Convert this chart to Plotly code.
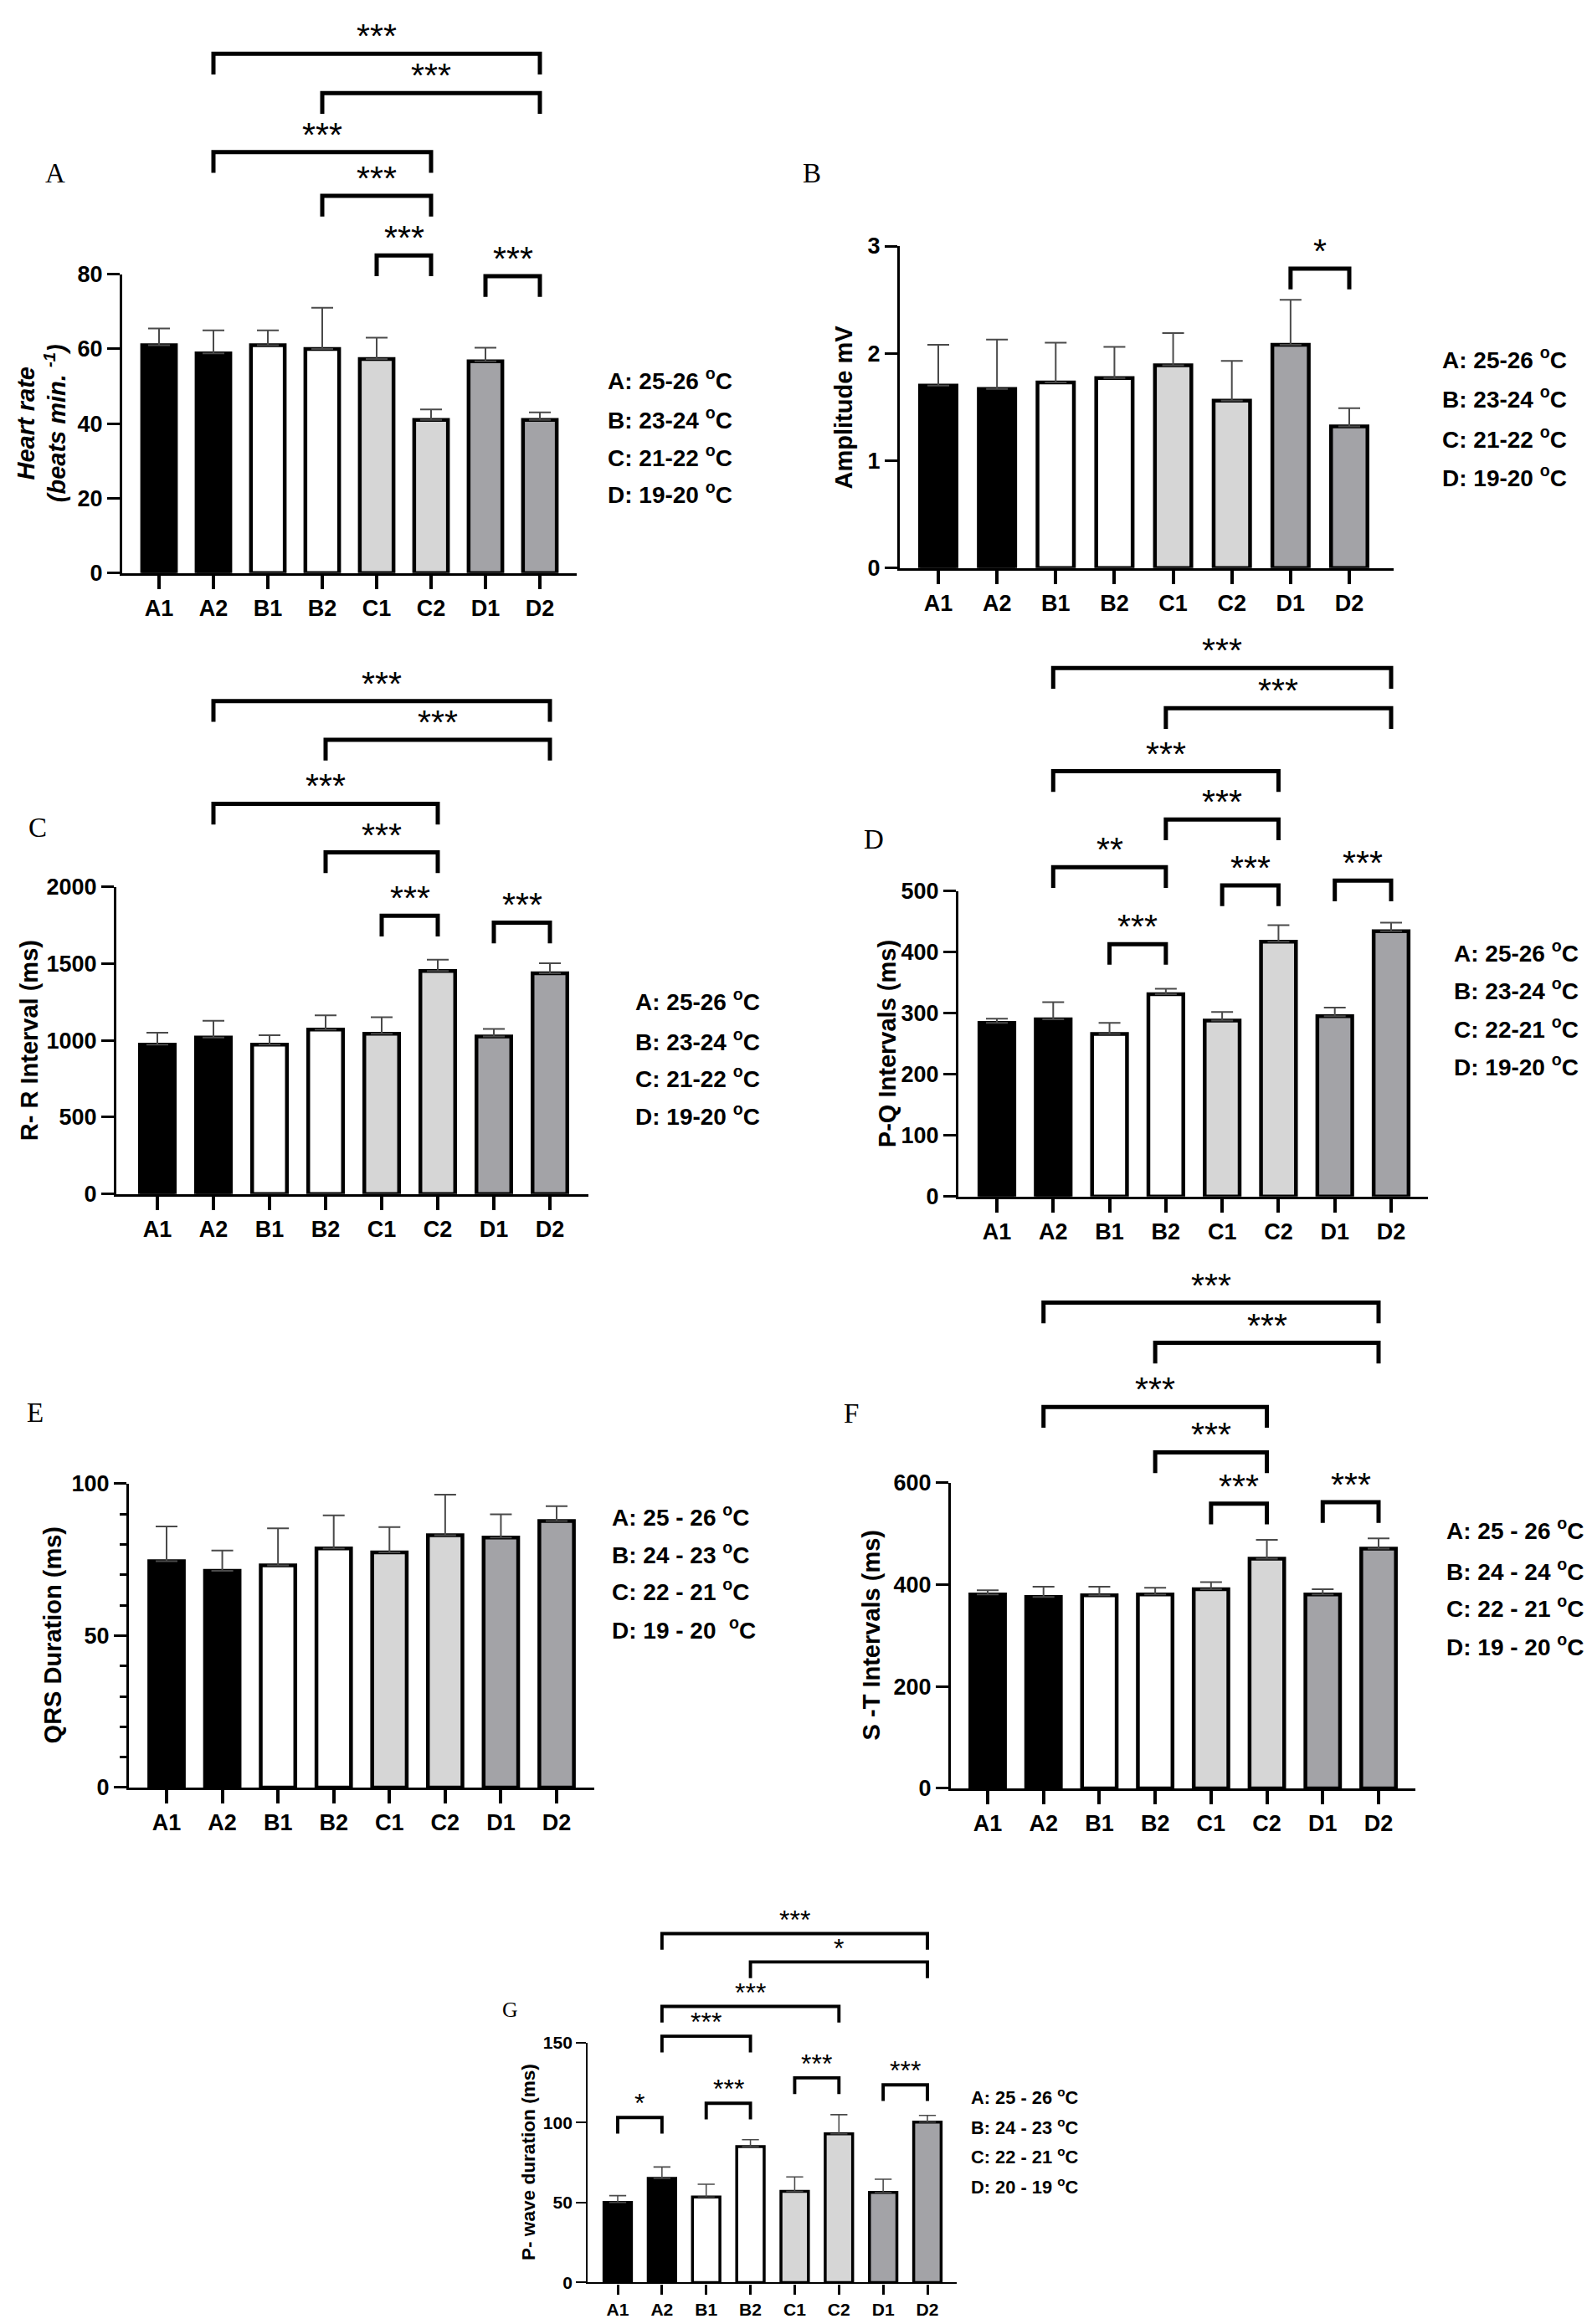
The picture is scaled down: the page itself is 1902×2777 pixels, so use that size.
import plotly.graph_objects as go

W, H = 1902, 2777

categories = ["A1", "A2", "B1", "B2", "C1", "C2", "D1", "D2"]
bar_colors = ["#000000", "#000000", "#ffffff", "#ffffff", "#d6d6d6", "#d6d6d6", "#a3a3a7", "#a3a3a7"]

# Panel A - heart rate
hr_mean = [61.0, 58.8, 61.0, 60.0, 57.3, 41.0, 56.7, 41.0]
hr_err = [4.5, 6.2, 4.0, 11.0, 5.7, 2.8, 3.6, 2.0]
hr_sig = [(1, 7, 139, "***"), (3, 7, 128.5, "***"), (1, 5, 112.7, "***"),
          (3, 5, 101, "***"), (4, 5, 85, "***"), (6, 7, 79.5, "***")]

# Panel B - amplitude
amp_mean = [1.70, 1.67, 1.73, 1.77, 1.89, 1.56, 2.08, 1.32]
amp_err = [0.38, 0.46, 0.37, 0.29, 0.30, 0.37, 0.42, 0.17]
amp_sig = [(6, 7, 2.79, "*")]

# Panel C - R-R interval
rr_mean = [973, 1019, 973, 1070, 1043, 1452, 1026, 1437]
rr_err = [77, 108, 61, 93, 108, 74, 49, 65]
rr_sig = [(1, 7, 3209, "***"), (3, 7, 2957, "***"), (1, 5, 2541, "***"),
          (3, 5, 2224, "***"), (4, 5, 1812, "***"), (6, 7, 1767, "***")]

# Panel D - P-Q intervals
pq_mean = [284, 290, 266, 331, 288, 417, 295, 434]
pq_err = [7, 28, 18, 9, 14, 27, 14, 14]
pq_sig = [(1, 7, 865, "***"), (3, 7, 799, "***"), (1, 5, 696, "***"),
          (3, 5, 617, "***"), (1, 3, 539, "**"), (2, 3, 413, "***"),
          (4, 5, 509, "***"), (6, 7, 517, "***")]

# Panel E - QRS duration
qrs_mean = [74.5, 71.3, 73.1, 78.7, 77.4, 83.0, 82.3, 87.7]
qrs_err = [11.4, 6.7, 12.2, 10.9, 8.3, 13.4, 7.6, 4.9]
qrs_sig = []

# Panel F - S-T intervals
st_mean = [381, 376, 379, 381, 391, 451, 381, 471]
st_err = [8, 20, 17, 13, 14, 37, 10, 20]
st_sig = [(1, 7, 954, "***"), (3, 7, 875, "***"), (1, 5, 749, "***"),
          (3, 5, 660, "***"), (4, 5, 559, "***"), (6, 7, 562, "***")]

# Panel G - P-wave duration
pw_mean = [50.1, 65.1, 53.4, 84.9, 57.0, 92.9, 56.3, 100.3]
pw_err = [4.2, 7.1, 8.0, 4.4, 9.0, 12.0, 8.3, 4.1]
pw_sig = [(1, 7, 218, "***"), (3, 7, 200.3, "*"), (1, 5, 172.5, "***"),
          (1, 3, 153.9, "***"), (0, 1, 103.1, "*"), (2, 3, 112, "***"),
          (4, 5, 127.9, "***"), (6, 7, 123.5, "***")]

legend_groups = ["A", "B", "C", "D"]
leg_A = ["25-26", "23-24", "21-22", "19-20"]
leg_B = ["25-26", "23-24", "21-22", "19-20"]
leg_C = ["25-26", "23-24", "21-22", "19-20"]
leg_D = ["25-26", "23-24", "22-21", "19-20"]
leg_E = ["25 - 26", "24 - 23", "22 - 21", "19 - 20 "]
leg_F = ["25 - 26", "24 - 24", "22 - 21", "19 - 20"]
leg_G = ["25 - 26", "24 - 23", "22 - 21", "20 - 19"]

panels = [
    dict(letter="A", mean=hr_mean, err=hr_err, sig=hr_sig, ymax=80, dtick=20, minor=None,
         title="Heart rate<br>(beats min. <sup>-1</sup>)", italic=True, legend=leg_A,
         geo=dict(xl=138, xr=681, yb=669, yt=308, top=0, c0=182, c7=637,
                  letter=(58, 186), title_x=42, leg_x=716, leg_y=[435, 482, 528, 572], s=1.0)),
    dict(letter="B", mean=amp_mean, err=amp_err, sig=amp_sig, ymax=3, dtick=1, minor=None,
         title="Amplitude mV", italic=False, legend=leg_B,
         geo=dict(xl=1067, xr=1657, yb=663, yt=274, top=150, c0=1113, c7=1604,
                  letter=(962, 186), title_x=1000, leg_x=1713, leg_y=[409, 457, 505, 552], s=1.0)),
    dict(letter="C", mean=rr_mean, err=rr_err, sig=rr_sig, ymax=2000, dtick=500, minor=None,
         title="R- R Interval (ms)", italic=False, legend=leg_C,
         geo=dict(xl=131, xr=695, yb=1419, yt=1048, top=740, c0=180, c7=649,
                  letter=(37, 977), title_x=27, leg_x=749, leg_y=[1185, 1233, 1278, 1323], s=1.0)),
    dict(letter="D", mean=pq_mean, err=pq_err, sig=pq_sig, ymax=500, dtick=100, minor=None,
         title="P-Q Intervals (ms)", italic=False, legend=leg_D,
         geo=dict(xl=1137, xr=1698, yb=1422, yt=1053, top=720, c0=1183, c7=1654,
                  letter=(1036, 991), title_x=1052, leg_x=1727, leg_y=[1126, 1172, 1218, 1264], s=1.0)),
    dict(letter="E", mean=qrs_mean, err=qrs_err, sig=qrs_sig, ymax=100, dtick=50, minor=10,
         title="QRS Duration (ms)", italic=False, legend=leg_E,
         geo=dict(xl=146, xr=702, yb=2136, yt=1769, top=1500, c0=191, c7=657,
                  letter=(34, 1683), title_x=55, leg_x=721, leg_y=[1808, 1853, 1898, 1944], s=1.0)),
    dict(letter="F", mean=st_mean, err=st_err, sig=st_sig, ymax=600, dtick=200, minor=None,
         title="S -T Intervals (ms)", italic=False, legend=leg_F,
         geo=dict(xl=1128, xr=1683, yb=2137, yt=1768, top=1480, c0=1172, c7=1639,
                  letter=(1009, 1684), title_x=1033, leg_x=1718, leg_y=[1824, 1873, 1918, 1964], s=1.0)),
    dict(letter="G", mean=pw_mean, err=pw_err, sig=pw_sig, ymax=150, dtick=50, minor=None,
         title="P- wave duration (ms)", italic=False, legend=leg_G,
         geo=dict(xl=694, xr=1135, yb=2734, yt=2444, top=2240, c0=730, c7=1100,
                  letter=(601, 2404), title_x=623, leg_x=1150, leg_y=[2509, 2545, 2581, 2617], s=0.78)),
]

SANS = "Liberation Sans, Arial, sans-serif"
SERIF = "Liberation Serif, Times New Roman, serif"


def px2x(px):
    return px / W


def py2y(py):
    return 1 - py / H


fig = go.Figure()
annotations = []
layout = dict(width=W, height=H, margin=dict(l=0, r=0, t=0, b=0),
              paper_bgcolor="white", plot_bgcolor="rgba(0,0,0,0)", showlegend=False,
              font=dict(family=SANS, color="black"))

n_p = len(panels)
for k, p in enumerate(panels):
    n = k + 1
    g = p["geo"]
    s = g["s"]
    xa = "x" if n == 1 else f"x{n}"
    ya = "y" if n == 1 else f"y{n}"
    yo = f"y{n + n_p}"
    spacing = (g["c7"] - g["c0"]) / (len(categories) - 1)
    x_lo = -(g["c0"] - g["xl"]) / spacing
    x_hi = (len(categories) - 1) + (g["xr"] - g["c7"]) / spacing
    px_per_unit = (g["yb"] - g["yt"]) / p["ymax"]
    over_max = (g["yb"] - g["top"]) / px_per_unit
    xs = list(range(len(categories)))

    layout[f"xaxis{n}"] = dict(
        domain=[px2x(g["xl"]), px2x(g["xr"])], range=[x_lo, x_hi], anchor=ya,
        tickmode="array", tickvals=xs, ticktext=categories,
        showline=True, linewidth=3 * s, linecolor="black", ticks="outside",
        ticklen=16 * s, tickwidth=3.5 * s, tickcolor="black",
        tickfont=dict(family=SANS, size=27 * s, color="black", weight="bold"),
        showgrid=False, zeroline=False, fixedrange=True)
    yax = dict(
        domain=[py2y(g["yb"]), py2y(g["yt"])], range=[0, p["ymax"]], anchor=xa,
        tickmode="linear", tick0=0, dtick=p["dtick"],
        showline=True, linewidth=3 * s, linecolor="black", ticks="outside",
        ticklen=15 * s, tickwidth=3 * s, tickcolor="black",
        tickfont=dict(family=SANS, size=27 * s, color="black", weight="bold"),
        showgrid=False, zeroline=False, fixedrange=True)
    if p["minor"]:
        yax["minor"] = dict(dtick=p["minor"], ticks="outside", ticklen=8, tickwidth=3,
                            tickcolor="black", showgrid=False)
    layout[f"yaxis{n}"] = yax
    layout[f"yaxis{n + n_p}"] = dict(
        domain=[py2y(g["yb"]), py2y(g["top"])], range=[0, over_max], anchor=xa,
        visible=False, fixedrange=True)

    fig.add_trace(go.Bar(
        x=xs, y=p["mean"], width=0.62, xaxis=xa, yaxis=ya,
        marker=dict(color=bar_colors, line=dict(color="black", width=4.5 * s)),
        error_y=dict(type="data", symmetric=False, array=p["err"],
                     arrayminus=[0] * len(categories), color="#4a4a4a",
                     thickness=2 * s, width=13 * s),
        hoverinfo="skip"))

    # significance brackets
    leg = 25 * s / px_per_unit
    bx, by = [], []
    for (i, j, h, lab) in p["sig"]:
        bx += [i, i, j, j, None]
        by += [h - leg, h, h, h - leg, None]
        annotations.append(dict(
            x=(i + j) / 2, y=h, xref=xa, yref=yo, text=lab, showarrow=False,
            xanchor="center", yanchor="bottom", yshift=-4 * s,
            font=dict(family=SANS, size=41 * s, color="black")))
    if bx:
        fig.add_trace(go.Scatter(x=bx, y=by, xaxis=xa, yaxis=yo, mode="lines",
                                 line=dict(color="black", width=5 * s),
                                 hoverinfo="skip"))

    # panel letter
    annotations.append(dict(
        x=px2x(g["letter"][0]), y=py2y(g["letter"][1]), xref="paper", yref="paper",
        text=p["letter"], showarrow=False, xanchor="center", yanchor="middle",
        font=dict(family=SERIF, size=33 * s, color="black")))

    # y title
    annotations.append(dict(
        x=px2x(g["title_x"]), y=py2y((g["yb"] + g["yt"]) / 2), xref="paper", yref="paper",
        text=p["title"], showarrow=False, textangle=-90, xanchor="center", yanchor="middle",
        font=dict(family=SANS, size=29 * s, color="black", weight="bold",
                  style="italic" if p["italic"] else "normal")))

    # temperature key
    for grp, rng, yy in zip(legend_groups, p["legend"], g["leg_y"]):
        annotations.append(dict(
            x=px2x(g["leg_x"]), y=py2y(yy), xref="paper", yref="paper",
            text=f"{grp}: {rng} <sup>o</sup>C", showarrow=False,
            xanchor="left", yanchor="middle",
            font=dict(family=SANS, size=28 * s, color="black", weight="bold")))

layout["annotations"] = annotations
fig.update_layout(**layout)
fig.write_html("out.html")
